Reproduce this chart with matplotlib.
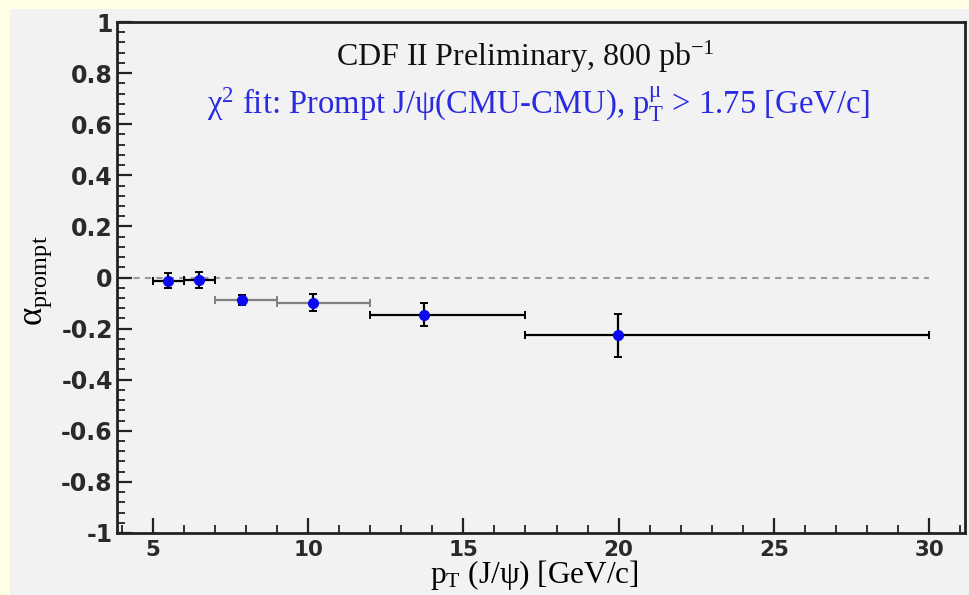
import matplotlib
matplotlib.use("Agg")
import matplotlib.pyplot as plt
from matplotlib.patches import Rectangle
from matplotlib.ticker import MultipleLocator

# mean pT of each bin, bin edges, fitted alpha and its error
pt = [5.5, 6.5, 7.87, 10.17, 13.74, 19.98]
bin_lo = [5, 6, 7, 9, 12, 17]
bin_hi = [6, 7, 9, 12, 17, 30]
alpha = [-0.013, -0.010, -0.088, -0.098, -0.145, -0.227]
alpha_err = [0.030, 0.030, 0.021, 0.033, 0.044, 0.086]
hbar_colors = ["black", "black", "#808080", "#808080", "black", "black"]

plt.rcParams["mathtext.fontset"] = "custom"
plt.rcParams["mathtext.rm"] = "Liberation Serif"
plt.rcParams["mathtext.it"] = "Liberation Serif:italic"
plt.rcParams["mathtext.default"] = "rm"

W, H = 969, 595
fig = plt.figure(figsize=(W / 100, H / 100), dpi=100, facecolor="#fefee4")
fig.patches.append(Rectangle((10 / W, 0), 1, 1 - 9 / H, transform=fig.transFigure,
                             facecolor="#f2f2f2", edgecolor="none", zorder=-10))

ax = fig.add_axes([117 / W, 62 / H, (965 - 117) / W, (533 - 22) / H])
ax.set_facecolor("#f2f2f2")
ax.set_xlim(3.85, 31.15)
ax.set_ylim(-1, 1)

# zero reference line
ax.plot([4, 30], [0, 0], ls=(0, (3, 2.5)), color="#999999", lw=1.5, zorder=1)

for i in range(len(pt)):
    ax.errorbar(pt[i], alpha[i], xerr=[[pt[i] - bin_lo[i]], [bin_hi[i] - pt[i]]],
                fmt="none", ecolor=hbar_colors[i], elinewidth=1.6, capsize=3, capthick=1.4,
                zorder=2)
    ax.errorbar(pt[i], alpha[i], yerr=alpha_err[i], fmt="none", ecolor="black",
                elinewidth=1.6, capsize=3, capthick=1.4, zorder=3)
ax.plot(pt, alpha, "o", color="#0a0aee", ms=7, zorder=4)

for side in ["left", "right", "top", "bottom"]:
    ax.spines[side].set_linewidth(2)
    ax.spines[side].set_color("#222222")

ax.xaxis.set_major_locator(MultipleLocator(5))
ax.xaxis.set_minor_locator(MultipleLocator(1))
ax.yaxis.set_major_locator(MultipleLocator(0.2))
ax.yaxis.set_minor_locator(MultipleLocator(0.04))
ax.tick_params(which="both", direction="in", top=False, right=False, color="#222222")
ax.tick_params(which="major", length=11, width=1.6)
ax.tick_params(which="minor", length=5.5, width=1.3)
ax.tick_params(axis="x", which="major", pad=5)
ax.tick_params(axis="y", which="major", pad=3)
ax.set_yticks([-1, -0.8, -0.6, -0.4, -0.2, 0, 0.2, 0.4, 0.6, 0.8, 1])
ax.set_yticklabels(["-1", "-0.8", "-0.6", "-0.4", "-0.2", "0", "0.2", "0.4", "0.6", "0.8", "1"])
for lab in ax.get_yticklabels():
    lab.set_fontfamily("DejaVu Sans")
    lab.set_fontweight("bold")
    lab.set_fontsize(17)
    lab.set_color("#2a2a2a")
for lab in ax.get_xticklabels():
    lab.set_fontfamily("DejaVu Sans")
    lab.set_fontweight("bold")
    lab.set_fontsize(15.5)
    lab.set_color("#2a2a2a")

ax.set_xlabel(r"p$_{\mathrm{T}}$ (J/ψ) [GeV/c]", fontfamily="Liberation Serif", fontsize=22.5,
              va="baseline")
ax.xaxis.set_label_coords((534 - 117) / 848, -(583 - 533) / 511)
ax.set_ylabel(r"α$_{\mathrm{prompt}}$", fontfamily="Liberation Serif", fontsize=25,
              va="center")
ax.yaxis.set_label_coords((38 - 117) / 848, (533 - 281) / 511)

ax.text((525 - 117) / 848, (533 - 66) / 511, r"CDF II Preliminary, 800 pb$^{\mathrm{-1}}$",
        transform=ax.transAxes, ha="center", va="baseline", fontfamily="Liberation Serif",
        fontsize=23, color="#111111")
ax.text((539 - 117) / 848, (533 - 114) / 511,
        r"χ$^{2}$ fit: Prompt J/ψ(CMU-CMU), p$_{\mathrm{T}}^{\mathrm{μ}}$ > 1.75 [GeV/c]",
        transform=ax.transAxes, ha="center", va="baseline", fontfamily="Liberation Serif",
        fontsize=23.5, color="#2a2ae0")

fig.savefig("out.png", dpi=100, facecolor=fig.get_facecolor())
